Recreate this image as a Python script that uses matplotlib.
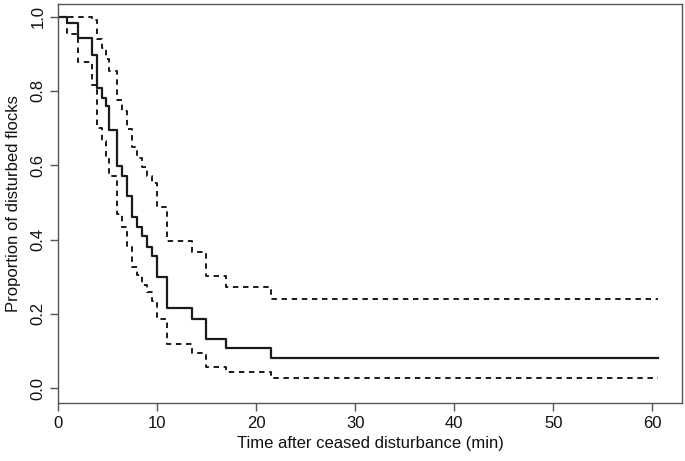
import matplotlib
matplotlib.use("Agg")
import matplotlib.pyplot as plt
from matplotlib.ticker import FormatStrFormatter

plt.rcParams['font.family'] = ['Liberation Sans', 'DejaVu Sans']

# Kaplan-Meier step starts (minutes) and values
times = [0, 0.94, 1.99, 3.46, 3.97, 4.41, 4.84, 5.15, 5.98, 6.45, 6.93,
         7.44, 7.94, 8.45, 8.95, 9.46, 9.96, 10.97, 13.49, 14.93, 16.95, 21.5]
surv = [1.0, 0.983, 0.942, 0.897, 0.808, 0.781, 0.759, 0.695, 0.597, 0.570, 0.516,
        0.462, 0.435, 0.409, 0.381, 0.356, 0.300, 0.216, 0.186, 0.132, 0.107, 0.081]
upper = [1.0, 1.0, 1.0, 0.990, 0.940, 0.915, 0.885, 0.855, 0.776, 0.745, 0.698,
         0.649, 0.620, 0.596, 0.571, 0.552, 0.487, 0.397, 0.366, 0.302, 0.272, 0.239]
lower = [1.0, 0.953, 0.877, 0.817, 0.700, 0.665, 0.625, 0.570, 0.469, 0.434, 0.380,
         0.326, 0.305, 0.278, 0.259, 0.234, 0.186, 0.118, 0.095, 0.058, 0.043, 0.028]
t_end = 60.6

x_ticks = [0, 10, 20, 30, 40, 50, 60]
y_ticks = [0.0, 0.2, 0.4, 0.6, 0.8, 1.0]

fig = plt.figure(figsize=(6.85, 4.61), dpi=100)
ax = fig.add_axes([58/685, 1 - 403/461, (682 - 58)/685, (403 - 4)/461])

tx = times + [t_end]
line_col = '#1a1a1a'
ax.step(tx, surv + [surv[-1]], where='post', color=line_col, lw=1.6)
ax.step(tx, upper + [upper[-1]], where='post', color=line_col, lw=1.4,
        linestyle=(0, (2.8, 2.4)))
ax.step(tx, lower + [lower[-1]], where='post', color=line_col, lw=1.4,
        linestyle=(0, (2.8, 2.4)))

ax.set_xlim(0, 63)
ax.set_ylim(-0.04, 1.034)
ax.set_xticks(x_ticks)
ax.set_yticks(y_ticks)
ax.yaxis.set_major_formatter(FormatStrFormatter('%.1f'))
for lab in ax.get_yticklabels():
    lab.set_rotation(90)
    lab.set_va('center')

spine_col = '#555555'
for s in ax.spines.values():
    s.set_color(spine_col)
    s.set_linewidth(1.0)
ax.tick_params(direction='out', length=6, width=1.0, color=spine_col,
               labelsize=12, labelcolor='#111111', pad=3)

ax.set_xlabel('Time after ceased disturbance (min)', fontsize=12, color='#111111', labelpad=4)
ax.set_ylabel('Proportion of disturbed flocks', fontsize=12, color='#111111', labelpad=7)

fig.savefig('out.png', dpi=100)
